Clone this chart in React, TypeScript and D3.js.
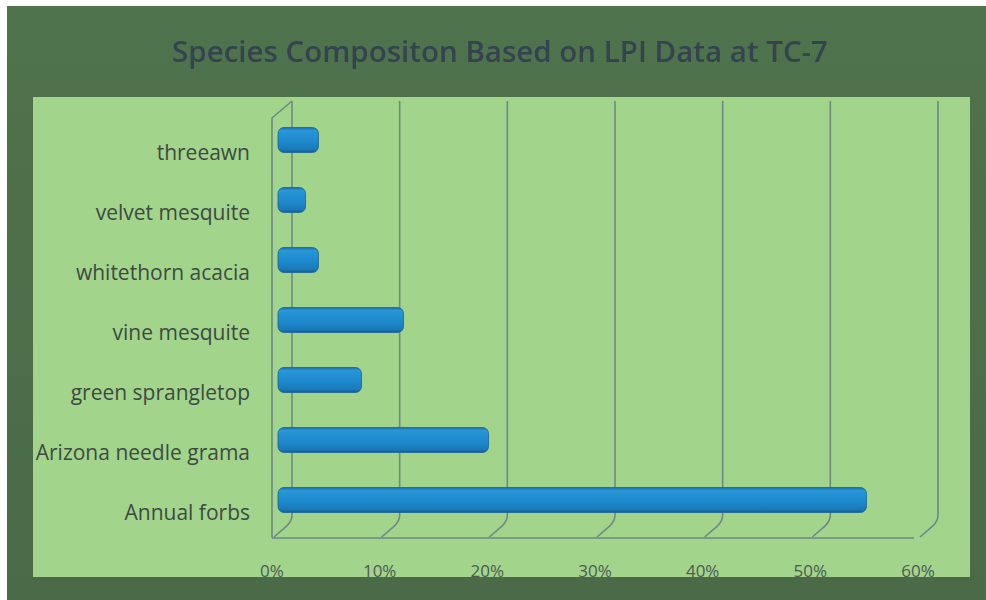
import React from "react";
import * as d3 from "d3";

// Species composition values (percent of LPI hits), listed bottom to top
const categories = [
  "Annual forbs",
  "Arizona needle grama",
  "green sprangletop",
  "vine mesquite",
  "whitethorn acacia",
  "velvet mesquite",
  "threeawn",
];
const values = [54.1, 19.0, 7.2, 11.1, 3.2, 2.0, 3.2];
const tickValues = [0, 10, 20, 30, 40, 50, 60];
const tickLabels = ["0%", "10%", "20%", "30%", "40%", "50%", "60%"];
const title = "Species Compositon Based on LPI Data at TC-7";

const W = 986;
const H = 600;
const FONT = "'Open Sans', Lato, sans-serif";

// 3D box geometry: front plane and a back wall offset by depth
const DX = 20;
const DY = -17;
const frontTop = 118;
const frontBottom = 538;

export default function App() {
  const x = d3.scaleLinear().domain([0, 60]).range([272, 918]);
  const y = d3
    .scalePoint<string>()
    .domain([...categories].reverse())
    .range([140, 500]);

  const backTop = frontTop + DY;
  const backBottom = frontBottom + DY;
  const barH = 25;
  const gridColor = "#6d8a84";

  // floor gridline: back wall bottom down to front edge, with a soft corner
  const floorPath = (v: number) => {
    const bx = x(v) + DX;
    const fx = x(v);
    const r = 6;
    return `M${bx},${backTop} L${bx},${backBottom - r} Q${bx},${backBottom} ${bx - r * 0.9},${backBottom - DY * 0.3} L${fx + 2},${frontBottom - 1}`;
  };

  return (
    <svg
      width={W}
      height={H}
      style={{ position: "absolute", left: 0, top: 0, display: "block" }}
    >
      <defs>
        <linearGradient id="barGrad" x1="0" y1="0" x2="0" y2="1">
          <stop offset="0%" stopColor="#1b6ea9" />
          <stop offset="12%" stopColor="#2896d8" />
          <stop offset="60%" stopColor="#1d88cb" />
          <stop offset="88%" stopColor="#1a78b6" />
          <stop offset="100%" stopColor="#145c8f" />
        </linearGradient>
        <linearGradient id="frameGrad" x1="0" y1="0" x2="0" y2="1">
          <stop offset="0%" stopColor="#4f734c" />
          <stop offset="100%" stopColor="#4a6a48" />
        </linearGradient>
        <filter id="soft" x="-5%" y="-20%" width="110%" height="140%">
          <feGaussianBlur stdDeviation="0.6" />
        </filter>
      </defs>

      <rect x={0} y={0} width={W} height={H} fill="#ffffff" />
      {/* outer dark frame */}
      <rect x={7} y={6} width={W - 7} height={H - 6} fill="url(#frameGrad)" />
      {/* plot panel */}
      <rect x={33} y={97} width={937} height={480} fill="#a3d48b" />

      {/* title */}
      <text
        x={500}
        y={50}
        textAnchor="middle"
        dominantBaseline="central"
        fontFamily={FONT}
        fontWeight={600}
        fontSize={29.5}
        fill="#34434f"
        filter="url(#soft)"
      >
        {title}
      </text>

      {/* back wall gridlines and floor */}
      <g fill="none" stroke={gridColor} strokeWidth={1.6}>
        {tickValues.map((v) => (
          <path key={v} d={floorPath(v)} />
        ))}
        <line x1={x(0)} y1={frontBottom} x2={x(60) - 4} y2={frontBottom} />
        {/* left side wall */}
        <path
          d={`M${x(0)},${frontBottom} L${x(0)},${frontTop} L${x(0) + DX},${backTop}`}
        />
      </g>

      {/* bars */}
      {categories.map((c, i) => {
        const cy = y(c)!;
        const x0 = x(0) + 6;
        const x1 = x(values[i]) + 12;
        return (
          <rect
            key={c}
            x={x0}
            y={cy - barH / 2}
            width={x1 - x0}
            height={barH}
            rx={6}
            ry={6}
            fill="url(#barGrad)"
            stroke="#1a639a"
            strokeWidth={0.8}
          />
        );
      })}

      {/* category labels */}
      {categories.map((c) => (
        <text
          key={c}
          x={250}
          y={y(c)! + 12}
          textAnchor="end"
          dominantBaseline="central"
          fontFamily={FONT}
          fontSize={21}
          fill="#3d4a43"
        >
          {c}
        </text>
      ))}

      {/* value axis labels */}
      {tickValues.map((v, i) => (
        <text
          key={v}
          x={x(v)}
          y={570}
          textAnchor="middle"
          dominantBaseline="central"
          fontFamily={FONT}
          fontSize={17}
          fill="#4a5a55"
        >
          {tickLabels[i]}
        </text>
      ))}
    </svg>
  );
}
